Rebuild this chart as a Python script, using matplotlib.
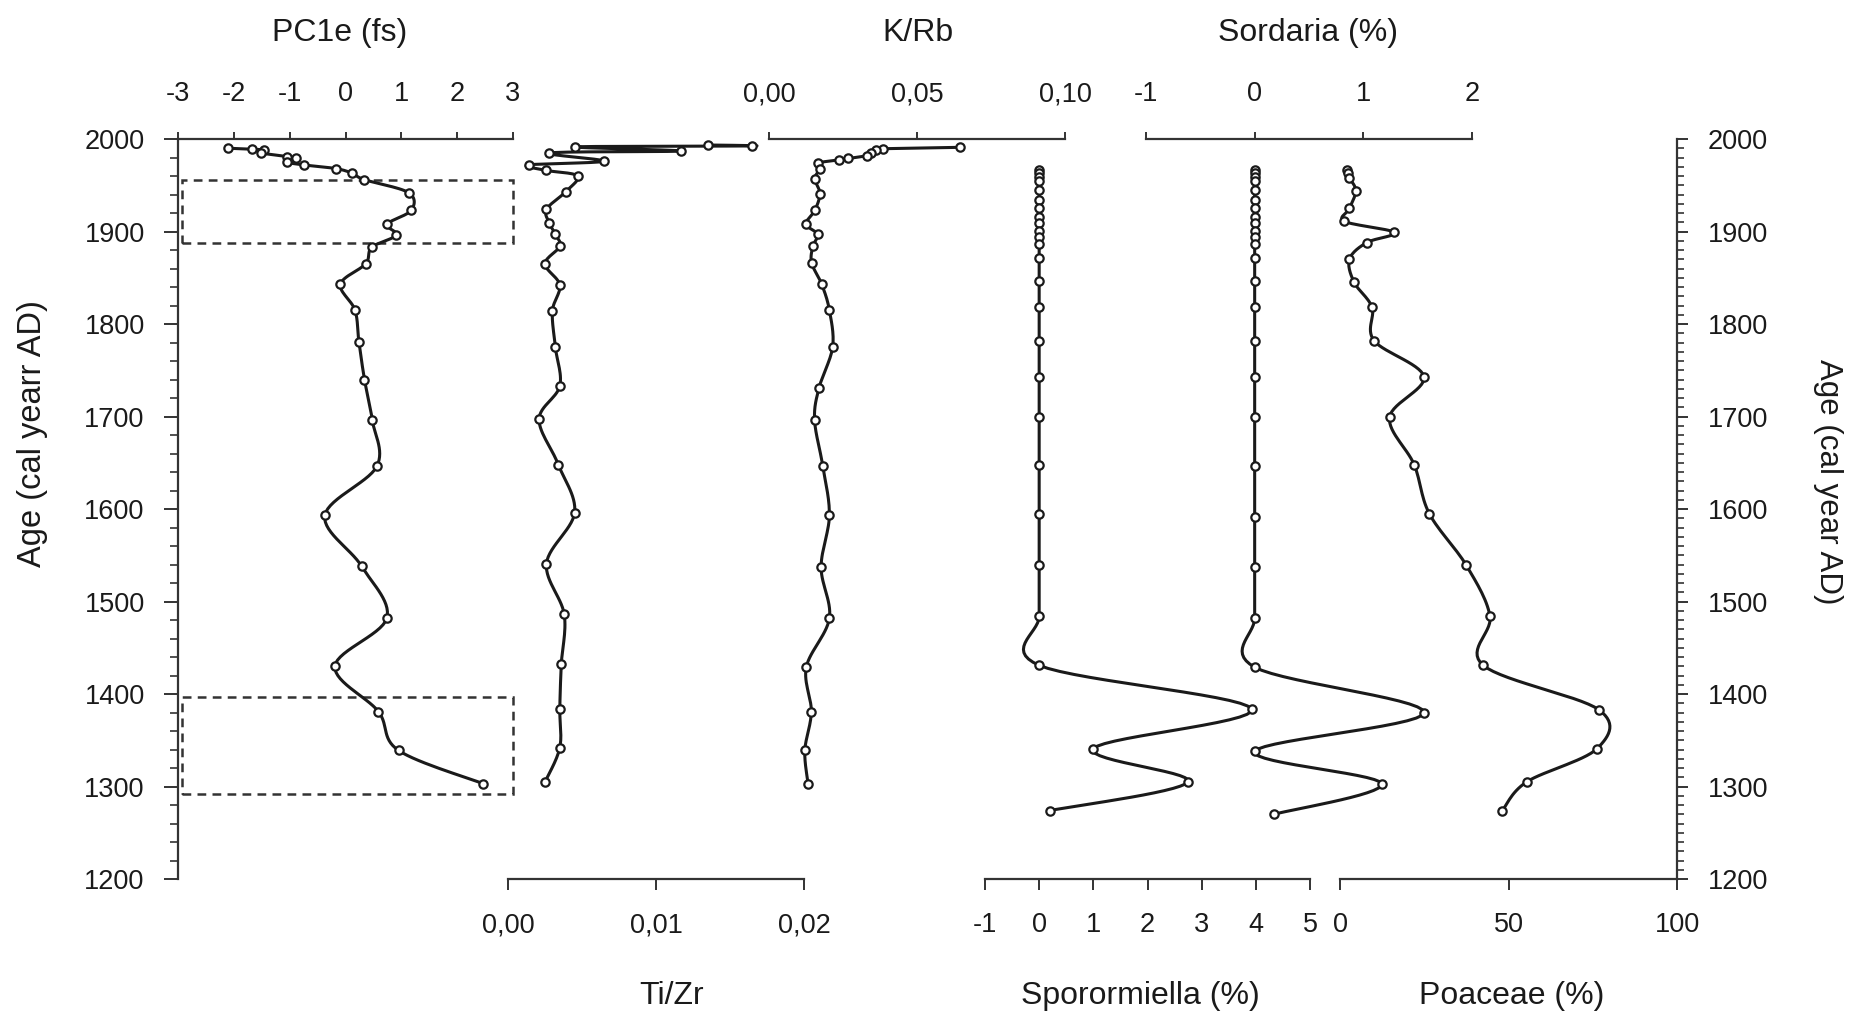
import numpy as np
import matplotlib.pyplot as plt
from matplotlib.patches import Rectangle
from matplotlib.ticker import MultipleLocator

plt.rcParams['font.family'] = ['Liberation Sans', 'DejaVu Sans']

W, H = 1860, 1021

# ---------------- data ----------------
pc1e_age = [1990, 1989, 1988, 1985, 1981, 1979, 1975, 1972, 1968, 1963, 1956,
            1942, 1923, 1908, 1896, 1883, 1865, 1843, 1815, 1781, 1740, 1696,
            1646, 1593, 1538, 1482, 1430, 1381, 1339, 1303]
pc1e = [-2.10, -1.67, -1.46, -1.52, -1.04, -0.88, -1.04, -0.75, -0.17, 0.12, 0.34,
        1.13, 1.18, 0.75, 0.91, 0.47, 0.36, -0.09, 0.17, 0.24, 0.34, 0.48,
        0.56, -0.37, 0.29, 0.74, -0.19, 0.59, 0.95, 2.47]

tizr_age = [1993.5, 1992.5, 1991.5, 1987, 1985, 1976, 1972, 1966, 1960, 1943,
            1924, 1909, 1897, 1884, 1865, 1842, 1814, 1775, 1733, 1697, 1648,
            1596, 1541, 1486, 1432, 1384, 1342, 1305]
tizr = [0.0135, 0.0165, 0.0045, 0.0117, 0.0028, 0.0065, 0.0014, 0.0026, 0.0047, 0.0039,
        0.0026, 0.0028, 0.0032, 0.0035, 0.0025, 0.0035, 0.0030, 0.0032, 0.0035, 0.0021,
        0.0034, 0.0045, 0.0026, 0.0038, 0.0036, 0.0035, 0.0035, 0.0025]

krb_age = [1991, 1989.5, 1988, 1985, 1982, 1979, 1977.5, 1974, 1968, 1957, 1941,
           1923, 1908, 1897, 1884, 1866, 1843, 1815, 1775, 1731, 1696, 1646,
           1593, 1537, 1482, 1429, 1381, 1339, 1303]
krb = [0.0645, 0.0385, 0.0360, 0.0345, 0.0330, 0.0268, 0.0238, 0.0167, 0.0172, 0.0155, 0.0172,
       0.0155, 0.0125, 0.0164, 0.0148, 0.0144, 0.0178, 0.0204, 0.0215, 0.0169, 0.0154, 0.0182,
       0.0204, 0.0176, 0.0204, 0.0126, 0.0143, 0.0121, 0.0132]

spor_age = [1966, 1963, 1959, 1955, 1945, 1934, 1925, 1916, 1909, 1901, 1894, 1887,
            1871, 1847, 1818, 1782, 1743, 1700, 1648, 1595, 1539, 1484, 1431,
            1384, 1341, 1305, 1274]
spor = [0, 0, 0, 0, 0, 0, 0, 0, 0, 0, 0, 0,
        0, 0, 0, 0, 0, 0, 0, 0, 0, 0, 0,
        3.92, 1.00, 2.75, 0.20]

sord_age = [1966, 1963, 1959, 1955, 1945, 1934, 1925, 1916, 1909, 1901, 1894, 1887,
            1871, 1847, 1818, 1782, 1743, 1700, 1646, 1591, 1537, 1482, 1429,
            1380, 1338, 1303, 1270]
sord = [0, 0, 0, 0, 0, 0, 0, 0, 0, 0, 0, 0,
        0, 0, 0, 0, 0, 0, 0, 0, 0, 0, 0,
        1.56, 0.00, 1.17, 0.18]

poa_age = [1967, 1963, 1958, 1944, 1925, 1911, 1899, 1888, 1870, 1845, 1818, 1782,
           1743, 1699, 1648, 1595, 1539, 1484, 1431, 1383, 1341, 1305, 1274]
poa = [2.2, 2.5, 2.8, 4.7, 2.8, 1.3, 16.1, 7.9, 2.8, 4.2, 9.5, 10.1,
       24.9, 14.7, 22.0, 26.5, 37.5, 44.5, 42.5, 76.8, 76.3, 55.4, 48.2]

highlight_periods = [(1888, 1956), (1292, 1397)]

# ---------------- helpers ----------------
INK = '#1a1a1a'
AX = '#333333'
TICK_FS = 19.5
TITLE_FS = 23
Y_TOP, Y_BOT = 139, 879   # pixel rows of 2000 and 1200


def smooth(x, y, n=16):
    # Bezier smoothing through the points (spreadsheet style smoothed line)
    p = np.column_stack([x, y]).astype(float)
    p = np.vstack([p[0], p, p[-1]])
    t = np.linspace(0, 1, n)[1:, None]
    out = [p[1]]
    for i in range(1, len(p) - 2):
        p0, p1, p2, p3 = p[i - 1], p[i], p[i + 1], p[i + 2]
        c1 = p1 + (p2 - p0) / 6
        c2 = p2 - (p3 - p1) / 6
        seg = (1 - t) ** 3 * p1 + 3 * (1 - t) ** 2 * t * c1 + 3 * (1 - t) * t ** 2 * c2 + t ** 3 * p2
        out.extend(seg)
    out = np.array(out)
    return out[:, 0], out[:, 1]


fig = plt.figure(figsize=(W / 100, H / 100), dpi=100)


def panel(x0, x1, xlim, side, ticks, labels, pad):
    ax = fig.add_axes([x0 / W, 1 - Y_BOT / H, (x1 - x0) / W, (Y_BOT - Y_TOP) / H])
    ax.set_xlim(*xlim)
    ax.set_ylim(1200, 2000)
    ax.patch.set_visible(False)
    for s in ax.spines.values():
        s.set_visible(False)
    ax.spines[side].set_visible(True)
    ax.spines[side].set_color(AX)
    ax.spines[side].set_linewidth(1.6)
    ax.xaxis.set_ticks_position(side)
    ax.set_xticks(ticks)
    ax.set_xticklabels(labels)
    ax.tick_params(axis='x', direction='out', length=5 if side == 'top' else 8,
                   width=1.4, color=AX, labelsize=TICK_FS, pad=pad, labelcolor=INK)
    ax.set_yticks([])
    return ax


def curve(ax, x, y):
    sx, sy = smooth(x, y)
    ax.plot(sx, sy, color=INK, lw=2.2, clip_on=False, zorder=3)
    ax.plot(x, y, 'o', ms=6, mfc='white', mec=INK, mew=1.6, clip_on=False, zorder=4)


# PC1e (top) with left age axis
ax1 = panel(178, 513, (-3, 3), 'top', [-3, -2, -1, 0, 1, 2, 3],
            ['-3', '-2', '-1', '0', '1', '2', '3'], 18)
ax1.spines['left'].set_visible(True)
ax1.spines['left'].set_color(AX)
ax1.spines['left'].set_linewidth(1.6)
ax1.yaxis.set_ticks_position('left')
ax1.set_yticks(np.arange(1200, 2001, 100))
ax1.yaxis.set_minor_locator(MultipleLocator(20))
ax1.tick_params(axis='y', which='major', direction='out', length=10, width=1.4,
                color=AX, labelsize=TICK_FS, pad=14, labelcolor=INK)
ax1.tick_params(axis='y', which='minor', direction='out', length=6, width=1.2, color=AX)
for lo, hi in highlight_periods:
    ax1.add_patch(Rectangle((-2.92, lo), 5.92, hi - lo, fill=False, ec=AX,
                            lw=1.8, ls=(0, (3.5, 2.5)), clip_on=False, zorder=2))
curve(ax1, pc1e, pc1e_age)

# Ti/Zr (bottom)
ax2 = panel(508, 804, (0, 0.02), 'bottom', [0, 0.01, 0.02], ['0,00', '0,01', '0,02'], 16)
curve(ax2, tizr, tizr_age)

# K/Rb (top)
ax3 = panel(769, 1065, (0, 0.10), 'top', [0, 0.05, 0.10], ['0,00', '0,05', '0,10'], 18)
curve(ax3, krb, krb_age)

# Sporormiella (bottom)
ax4 = panel(985, 1310, (-1, 5), 'bottom', [-1, 0, 1, 2, 3, 4, 5],
            ['-1', '0', '1', '2', '3', '4', '5'], 16)
curve(ax4, spor, spor_age)

# Sordaria (top)
ax5 = panel(1146, 1472, (-1, 2), 'top', [-1, 0, 1, 2], ['-1', '0', '1', '2'], 18)
curve(ax5, sord, sord_age)

# Poaceae (bottom) with right age axis
ax6 = panel(1340, 1677, (0, 100), 'bottom', [0, 50, 100], ['0', '50', '100'], 16)
ax6.spines['right'].set_visible(True)
ax6.spines['right'].set_color(AX)
ax6.spines['right'].set_linewidth(1.6)
ax6.yaxis.set_ticks_position('right')
ax6.set_yticks(np.arange(1200, 2001, 100))
ax6.yaxis.set_minor_locator(MultipleLocator(10))
ax6.tick_params(axis='y', which='major', direction='out', length=8, width=1.4,
                color=AX, labelsize=TICK_FS, pad=14, labelcolor=INK)
ax6.tick_params(axis='y', which='minor', direction='out', length=5, width=1.2, color=AX)
curve(ax6, poa, poa_age)

# titles
for txt, x in [('PC1e (fs)', 340), ('K/Rb', 918), ('Sordaria (%)', 1308)]:
    fig.text(x / W, 1 - 33 / H, txt, ha='center', va='center', fontsize=TITLE_FS, color=INK)
for txt, x in [('Ti/Zr', 672), ('Sporormiella (%)', 1140), ('Poaceae (%)', 1512)]:
    fig.text(x / W, 1 - 996 / H, txt, ha='center', va='center', fontsize=TITLE_FS, color=INK)
fig.text(33 / W, 1 - 434 / H, 'Age (cal yearr AD)', rotation=90, ha='center', va='center',
         fontsize=23.5, color=INK)
fig.text(1828 / W, 1 - 482 / H, 'Age (cal year AD)', rotation=-90, ha='center', va='center',
         fontsize=22.5, color=INK)

fig.savefig('out.png', dpi=100, facecolor='white')
